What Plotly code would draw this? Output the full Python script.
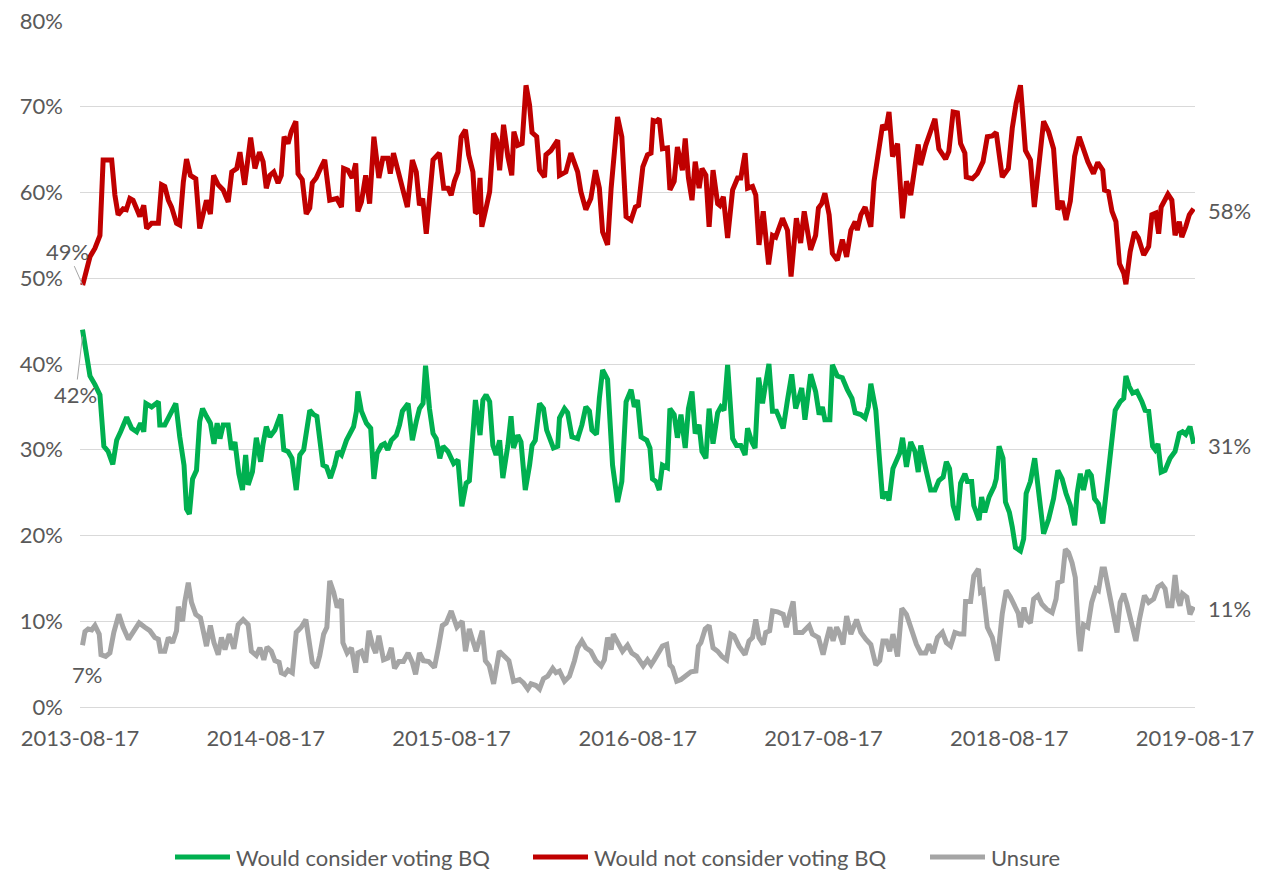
import numpy as np
import pandas as pd
import plotly.graph_objects as go

# ---------------- data (week offset from 2013-08-17, share in %) ----------------
start_date = "2013-08-17"

red_weeks = [0.75, 1.9, 2.8, 4.2, 5.6, 6.5, 8.9, 9.8, 10.7, 12.1, 13.0, 14.0, 14.9, 15.9, 16.8, 17.9, 18.7, 20.1, 22.0, 22.9,
             23.8, 24.8, 25.7, 27.1, 28.0, 29.0, 29.9, 31.0, 32.5, 33.6, 34.7, 35.5, 36.6, 37.5, 38.8, 40.2, 41.6, 42.6, 44.0, 44.9,
             46.2, 47.9, 49.1, 50.4, 51.4, 52.3, 53.3, 54.4, 55.6, 56.5, 57.3, 58.4, 59.3, 60.6, 61.2, 62.4, 63.5, 64.5, 65.2, 66.3,
             67.5, 68.7, 70.1, 72.1, 73.4, 74.0, 75.2, 76.4, 77.4, 78.0, 79.0, 80.2, 81.3, 82.5, 83.9, 85.0, 86.4, 87.1, 88.0, 89.2,
             90.5, 91.9, 93.3, 94.4, 95.3, 96.2, 97.2, 98.1, 99.1, 100.9, 102.1, 103.3, 104.2, 105.1, 106.1, 107.0, 108.2, 109.1, 110.3, 111.0,
             111.7, 112.3, 112.8, 114.0, 115.0, 116.1, 117.0, 117.8, 118.9, 120.1, 121.2, 121.8, 122.9, 124.1, 125.2, 126.2, 126.9, 128.2, 129.0, 130.4,
             130.8, 132.2, 134.1, 134.6, 136.4, 137.8, 139.7, 140.6, 142.0, 143.4, 144.7, 145.8, 146.7, 148.1, 149.1, 150.9, 152.1, 153.3, 154.7, 155.9,
             156.8, 158.0, 159.3, 160.3, 160.9, 161.7, 162.6, 163.5, 164.9, 165.6, 166.8, 167.7, 168.7, 169.1, 169.9, 170.8, 171.8, 172.7, 173.8, 174.6,
             175.7, 176.6, 177.7, 179.0, 179.6, 180.6, 181.8, 183.2, 184.6, 185.5, 186.7, 187.4, 188.8, 189.7, 190.6, 191.8, 193.3, 194.4, 195.3, 197.2,
             198.6, 199.6, 201.1, 202.3, 203.3, 205.1, 206.5, 207.3, 208.2, 209.1, 210.3, 211.2, 212.6, 214.0, 215.2, 216.4, 217.6, 218.2, 219.2, 220.4,
             222.0, 222.9, 225.3, 226.2, 227.1, 228.1, 229.5, 230.9, 232.0, 233.2, 235.3, 236.0, 237.4, 240.0, 241.1, 243.0, 243.9, 245.1, 246.3, 247.2,
             248.4, 248.8, 250.5, 251.9, 253.5, 254.7, 256.1, 257.2, 258.9, 260.6, 261.7, 262.8, 264.0, 265.4, 266.8, 267.9, 270.5, 271.9, 273.3, 274.5,
             275.7, 276.8, 278.0, 279.2, 280.5, 281.7, 282.9, 284.5, 285.7, 287.1, 287.6, 288.7, 289.7, 290.8, 291.8, 293.0, 293.6, 294.8, 296.0, 297.1,
             298.6, 300.0, 300.9, 302.0, 302.8, 303.5, 304.4, 305.4, 306.5, 307.4, 308.6, 309.3, 310.4, 311.4, 312.6]
red_vals = [49.2, 51.1, 52.5, 53.5, 55.0, 63.8, 63.8, 59.7, 57.4, 58.1, 58.0, 59.3, 59.1, 58.1, 57.2, 58.5, 55.8, 56.4, 56.4, 60.9,
            60.7, 59.1, 58.3, 56.4, 56.2, 61.2, 63.9, 62.0, 61.6, 55.8, 58.1, 59.1, 57.5, 62.0, 60.9, 60.3, 58.9, 62.4, 62.8, 64.7,
            60.9, 66.4, 62.8, 64.7, 63.6, 60.5, 62.0, 62.4, 61.1, 62.0, 66.5, 65.7, 67.1, 68.3, 62.2, 61.5, 57.5, 58.2, 61.1, 61.7,
            62.8, 63.8, 59.1, 59.3, 58.3, 62.8, 62.6, 61.7, 63.4, 57.8, 58.9, 62.0, 58.7, 66.5, 61.7, 64.0, 64.0, 62.2, 64.6, 62.8,
            60.5, 58.3, 63.8, 62.4, 58.5, 59.3, 55.2, 60.1, 63.8, 64.6, 60.5, 60.5, 59.7, 61.3, 62.4, 66.5, 67.3, 64.4, 62.4, 57.6,
            57.8, 61.7, 56.0, 58.2, 60.1, 66.9, 66.1, 62.6, 67.9, 64.2, 62.0, 67.1, 65.5, 65.7, 72.5, 70.2, 67.0, 66.5, 62.6, 61.8,
            64.4, 64.9, 66.1, 62.0, 62.4, 64.6, 62.4, 60.1, 58.0, 59.3, 62.6, 60.5, 55.4, 53.9, 60.5, 68.8, 66.5, 57.2, 56.8, 58.3,
            58.5, 63.0, 64.4, 64.6, 68.4, 68.3, 68.6, 65.1, 65.2, 60.3, 61.3, 65.3, 62.8, 62.6, 66.3, 61.7, 59.1, 63.6, 60.5, 62.8,
            62.0, 56.0, 62.6, 58.7, 58.5, 59.5, 54.7, 60.3, 61.7, 61.7, 64.6, 60.5, 60.7, 59.7, 53.9, 57.8, 51.6, 55.0, 54.8, 57.0,
            55.6, 50.2, 57.0, 54.1, 57.8, 53.3, 55.0, 58.2, 58.7, 59.9, 57.4, 52.9, 52.1, 54.5, 52.5, 55.6, 56.6, 55.6, 57.4, 58.3,
            56.0, 61.3, 67.9, 67.3, 69.4, 64.2, 65.7, 57.0, 61.3, 59.7, 65.6, 63.2, 65.5, 68.6, 65.1, 63.9, 64.8, 69.4, 69.3, 65.7,
            64.6, 61.8, 61.6, 62.2, 63.6, 66.5, 66.6, 67.0, 61.8, 62.8, 67.5, 70.4, 72.5, 64.9, 63.8, 58.3, 68.3, 67.1, 65.1, 58.0,
            59.0, 56.8, 59.0, 64.2, 66.5, 65.1, 63.6, 62.2, 63.5, 62.6, 60.3, 60.1, 57.8, 56.6, 51.7, 50.6, 49.3, 53.1, 55.4, 54.7,
            52.7, 53.7, 57.4, 57.6, 55.2, 58.3, 58.9, 59.8, 59.1, 55.0, 56.6, 54.8, 56.0, 57.4, 58.1]

green_weeks = [0.7, 1.9, 2.8, 4.2, 5.6, 6.7, 7.9, 9.2, 10.3, 11.4, 13.1, 14.5, 15.9, 17.0, 17.9, 18.5, 20.1, 22.0, 22.4, 23.8,
               25.7, 26.9, 28.0, 29.2, 29.9, 30.7, 31.6, 32.7, 33.6, 34.4, 35.5, 36.6, 37.6, 38.5, 39.3, 40.2, 41.6, 42.5, 43.5, 44.6,
               45.6, 46.5, 47.2, 48.4, 49.5, 50.7, 51.4, 52.3, 53.3, 54.7, 56.3, 57.2, 58.4, 59.5, 60.7, 61.7, 62.8, 64.5, 65.6, 66.5,
               68.2, 69.2, 70.3, 71.5, 72.4, 73.4, 74.8, 75.7, 76.8, 77.6, 78.0, 79.0, 80.4, 81.6, 82.5, 83.4, 84.6, 85.5, 86.4, 87.4,
               88.8, 89.7, 90.5, 92.1, 93.3, 94.4, 95.3, 96.3, 97.0, 98.1, 99.1, 100.0, 101.0, 101.9, 103.3, 104.9, 106.1, 107.2, 108.4, 109.3,
               110.3, 111.0, 112.3, 113.1, 114.0, 115.0, 115.9, 116.8, 117.8, 118.7, 120.1, 121.0, 121.7, 122.9, 123.8, 125.0, 126.2, 126.9, 127.8, 129.0,
               130.1, 131.0, 132.9, 134.1, 134.6, 136.0, 136.9, 138.1, 139.7, 140.9, 142.0, 143.0, 143.7, 145.0, 145.8, 146.7, 148.1, 149.5, 150.9, 152.1,
               153.3, 154.7, 155.6, 156.5, 157.5, 159.1, 160.0, 160.7, 161.7, 162.6, 163.5, 164.9, 165.6, 166.8, 167.7, 168.7, 169.9, 170.8, 171.8, 172.7,
               173.8, 174.6, 175.7, 176.6, 177.7, 179.0, 179.9, 180.8, 181.8, 183.2, 184.3, 185.5, 186.7, 187.4, 188.6, 189.5, 190.5, 191.6, 192.5, 193.4,
               194.4, 195.5, 196.3, 197.4, 198.6, 199.8, 200.9, 202.6, 203.5, 205.1, 206.5, 207.5, 208.4, 209.1, 210.5, 211.2, 212.6, 214.0, 215.4, 216.7,
               217.6, 219.2, 220.4, 221.3, 222.0, 223.4, 224.3, 225.3, 226.2, 227.1, 228.2, 229.5, 230.1, 230.9, 232.0, 233.2, 234.4, 235.3, 236.0, 237.4,
               238.8, 240.0, 241.1, 242.3, 243.2, 244.1, 245.1, 246.3, 247.2, 248.4, 249.1, 250.3, 250.9, 252.4, 253.1, 254.0, 255.2, 256.6, 257.2, 258.0,
               259.1, 259.8, 260.9, 261.7, 262.6, 264.0, 264.9, 265.6, 266.8, 268.0, 269.3, 270.5, 271.9, 273.3, 274.5, 275.7, 276.8, 278.0, 279.2, 279.9,
               280.8, 281.7, 282.9, 283.9, 284.8, 285.9, 287.1, 288.0, 289.2, 290.6, 292.0, 293.0, 293.6, 294.5, 295.5, 296.7, 298.1, 299.0, 300.0, 301.1,
               301.8, 302.6, 303.5, 304.6, 306.0, 307.4, 308.6, 309.5, 310.4, 311.6, 312.6]
green_vals = [44.0, 40.3, 38.6, 37.6, 36.4, 30.4, 29.8, 28.3, 31.1, 32.1, 33.8, 32.5, 32.1, 33.1, 32.1, 35.4, 35.0, 35.6, 32.9, 32.9,
              34.6, 35.4, 31.5, 28.2, 23.1, 22.5, 26.6, 27.6, 33.3, 34.8, 33.9, 33.1, 30.7, 33.1, 31.3, 32.9, 32.9, 30.0, 30.9, 27.2,
              25.3, 29.4, 25.9, 27.4, 31.4, 28.6, 30.7, 32.7, 31.5, 32.3, 34.1, 30.0, 29.8, 29.0, 25.3, 29.4, 30.0, 34.6, 34.1, 33.9,
              28.2, 28.0, 26.7, 28.2, 29.8, 29.4, 31.1, 31.7, 32.7, 34.5, 36.8, 34.5, 33.1, 32.5, 26.6, 29.6, 30.5, 30.7, 30.0, 31.1,
              31.7, 32.9, 34.5, 35.4, 31.1, 33.3, 34.8, 35.4, 39.8, 34.8, 31.9, 31.3, 29.0, 30.4, 29.8, 28.4, 28.8, 23.4, 26.1, 26.4,
              31.3, 35.8, 31.7, 35.8, 36.4, 35.6, 30.5, 29.4, 31.1, 26.7, 30.5, 33.9, 30.2, 31.7, 30.9, 25.3, 28.2, 30.5, 31.1, 35.4,
              34.8, 32.3, 30.2, 30.4, 33.7, 34.8, 34.3, 31.5, 31.3, 32.9, 35.0, 34.5, 32.3, 31.8, 36.0, 39.3, 38.2, 28.2, 23.9, 26.3,
              35.6, 37.0, 35.0, 35.8, 31.5, 31.1, 30.2, 26.6, 26.3, 25.3, 28.2, 27.9, 34.8, 34.1, 31.4, 34.1, 30.2, 34.8, 36.8, 31.9,
              32.9, 29.8, 29.0, 34.8, 30.7, 34.3, 35.0, 34.6, 39.9, 31.3, 30.5, 30.5, 29.4, 32.5, 30.9, 30.2, 38.4, 35.4, 37.8, 40.0,
              34.5, 34.5, 33.7, 32.5, 35.8, 38.8, 34.8, 37.2, 33.5, 38.8, 36.8, 34.1, 35.0, 33.5, 33.5, 39.9, 38.6, 38.4, 37.0, 36.0,
              34.3, 34.1, 33.7, 35.0, 37.7, 34.6, 29.6, 24.3, 25.1, 24.1, 27.8, 29.2, 29.6, 31.4, 28.0, 30.9, 29.8, 27.4, 30.5, 27.8,
              25.3, 25.3, 26.4, 26.8, 28.6, 27.8, 23.5, 21.8, 26.1, 27.2, 26.3, 26.3, 23.5, 21.8, 24.5, 22.7, 24.5, 25.7, 26.6, 30.4,
              29.0, 23.9, 22.7, 21.0, 18.6, 18.2, 19.6, 24.9, 26.3, 29.0, 24.3, 20.2, 21.9, 24.3, 27.6, 26.6, 24.9, 23.5, 21.2, 24.9,
              27.2, 25.3, 27.6, 27.0, 24.3, 23.7, 21.4, 25.1, 29.0, 34.6, 35.6, 36.0, 38.6, 37.4, 36.6, 36.8, 35.6, 34.6, 34.5, 30.4,
              30.0, 30.7, 27.4, 27.6, 29.0, 29.8, 31.9, 32.1, 31.8, 32.7, 30.7]

gray_weeks = [0.7, 1.4, 2.3, 3.3, 4.2, 5.4, 5.9, 7.2, 8.4, 9.5, 10.9, 12.1, 13.6, 15.1, 16.6, 18.2, 19.6, 21.0, 22.0, 22.6,
              23.8, 24.8, 26.0, 27.1, 27.6, 28.8, 29.4, 30.4, 31.3, 32.5, 33.8, 34.8, 35.5, 36.6, 37.6, 38.8, 39.7, 40.7, 41.9, 43.2,
              44.4, 45.8, 47.2, 48.1, 49.5, 50.5, 51.6, 52.5, 53.7, 54.7, 55.9, 56.5, 57.5, 58.4, 59.6, 60.7, 62.1, 63.4, 64.3, 65.2,
              66.4, 67.3, 68.4, 69.3, 70.1, 71.2, 72.2, 73.4, 73.8, 75.0, 76.2, 77.4, 78.0, 79.0, 80.2, 81.1, 82.2, 83.0, 83.9, 85.2,
              86.4, 87.4, 88.3, 89.5, 90.8, 92.1, 93.3, 94.2, 95.3, 96.4, 97.9, 99.5, 100.6, 101.7, 102.8, 104.2, 105.8, 107.3, 108.2, 109.3,
              110.3, 111.2, 112.9, 113.8, 114.9, 116.1, 117.7, 119.1, 120.4, 121.7, 123.4, 124.5, 125.7, 126.6, 128.0, 129.0, 130.1, 131.3, 132.7, 133.6,
              134.6, 136.0, 137.4, 138.8, 139.7, 140.9, 142.0, 143.4, 144.8, 146.3, 147.2, 148.1, 149.1, 149.7, 150.9, 152.3, 153.7, 154.9, 156.3, 157.5,
              158.1, 159.3, 160.3, 161.2, 162.1, 163.5, 164.7, 165.6, 166.3, 167.5, 168.7, 170.1, 171.5, 172.9, 173.6, 174.3, 175.5, 176.6, 177.7, 179.0,
              180.2, 181.5, 182.7, 183.6, 185.0, 186.7, 187.8, 188.8, 189.7, 190.6, 191.8, 192.5, 193.6, 194.4, 195.8, 197.4, 198.3, 199.2, 200.2, 200.9,
              202.8, 204.7, 205.6, 207.3, 208.6, 209.5, 210.5, 211.4, 212.4, 213.1, 214.2, 215.2, 216.4, 218.0, 219.2, 220.6, 222.0, 223.4, 224.5, 225.4,
              226.4, 227.3, 228.2, 229.5, 230.7, 232.0, 233.7, 234.8, 236.0, 237.4, 238.3, 239.5, 240.7, 242.1, 243.2, 244.4, 245.6, 246.9, 248.1, 248.6,
              250.0, 250.9, 252.2, 252.8, 253.5, 254.7, 256.1, 257.5, 258.9, 260.0, 261.2, 262.6, 263.4, 264.0, 265.0, 265.8, 266.8, 267.7, 268.9, 270.0,
              271.4, 272.9, 274.0, 274.5, 275.7, 276.6, 277.5, 278.5, 279.4, 280.3, 280.8, 281.7, 282.9, 284.0, 285.2, 285.9, 286.9, 287.6, 288.6, 289.7,
              291.1, 292.0, 293.0, 293.9, 295.1, 296.4, 297.4, 298.8, 300.0, 301.4, 302.6, 303.7, 304.6, 305.4, 306.5, 307.4, 308.2, 308.8, 309.5, 310.7,
              311.6, 312.6]
gray_vals = [7.2, 8.8, 9.1, 9.0, 9.5, 8.5, 6.1, 5.9, 6.3, 8.7, 10.8, 9.3, 7.9, 8.9, 9.8, 9.3, 8.9, 8.1, 7.9, 6.5,
             6.5, 8.1, 7.5, 8.9, 11.7, 10.0, 12.2, 14.5, 12.2, 10.8, 10.4, 8.5, 7.1, 9.5, 7.5, 6.1, 8.1, 6.7, 8.5, 6.8,
             9.6, 10.2, 9.6, 6.5, 6.0, 6.9, 5.5, 7.0, 6.5, 5.4, 5.2, 4.0, 3.8, 4.3, 4.0, 8.7, 9.3, 10.2, 7.7, 5.2,
             4.6, 6.0, 8.5, 9.3, 14.7, 13.4, 11.6, 12.6, 7.5, 6.3, 6.9, 4.0, 6.3, 6.5, 5.2, 8.9, 7.1, 6.3, 8.3, 5.5,
             5.7, 6.9, 4.5, 5.3, 5.3, 6.3, 5.2, 3.8, 6.3, 5.4, 5.3, 4.6, 6.9, 9.5, 9.8, 11.2, 9.3, 10.0, 6.5, 9.1,
             7.7, 6.5, 8.9, 5.4, 4.8, 2.7, 6.5, 5.9, 5.4, 3.0, 3.2, 2.8, 2.1, 2.7, 2.5, 2.1, 3.3, 3.6, 4.5, 4.0,
             4.2, 3.0, 3.6, 5.4, 6.9, 7.7, 6.9, 6.5, 5.4, 4.8, 5.5, 8.1, 6.7, 8.5, 7.7, 6.5, 7.2, 6.3, 5.9, 5.2,
             4.8, 5.5, 4.9, 5.5, 6.1, 7.1, 7.3, 4.9, 4.6, 3.0, 3.2, 3.6, 4.1, 4.2, 7.1, 7.5, 9.1, 9.5, 6.9, 6.5,
             5.9, 5.5, 8.5, 8.3, 7.1, 6.1, 7.7, 8.1, 10.2, 8.1, 7.3, 8.7, 8.9, 11.2, 11.1, 10.8, 9.3, 10.8, 12.3, 8.7,
             8.7, 9.5, 8.5, 8.1, 6.1, 7.7, 9.3, 7.7, 9.3, 8.7, 7.3, 10.6, 8.5, 10.2, 8.7, 7.9, 7.3, 4.9, 5.4, 7.7,
             7.7, 6.5, 8.5, 5.9, 11.5, 10.8, 8.5, 7.3, 6.3, 6.3, 7.3, 6.3, 8.1, 8.7, 7.5, 7.1, 8.7, 8.5, 8.5, 12.3,
             12.3, 15.3, 16.1, 13.4, 13.6, 9.3, 8.1, 5.4, 10.9, 13.6, 12.8, 11.6, 10.9, 9.3, 11.6, 10.2, 9.8, 12.6, 13.0, 12.0,
             11.4, 11.0, 12.6, 14.5, 14.7, 18.4, 18.0, 16.8, 15.1, 8.7, 6.5, 9.6, 9.3, 12.2, 13.8, 13.6, 16.1, 16.1, 13.8, 11.4,
             8.7, 12.2, 13.2, 12.0, 9.8, 7.7, 10.2, 13.0, 12.2, 12.6, 14.0, 14.3, 13.8, 11.8, 11.8, 15.4, 12.6, 11.8, 13.2, 12.8,
             10.8, 11.7]

series_names = ["Would consider voting BQ", "Would not consider voting BQ", "Unsure"]
series_colors = ["#00B050", "#C00000", "#A5A5A5"]
tick_dates = ["2013-08-17", "2014-08-17", "2015-08-17", "2016-08-17", "2017-08-17", "2018-08-17", "2019-08-17"]
y_ticks = [0.0, 0.1, 0.2, 0.3, 0.4, 0.5, 0.6, 0.7, 0.8]
y_ticktext = ["0%", "10%", "20%", "30%", "40%", "50%", "60%", "70%", "80%"]
start_labels = ["42%", "49%", "7%"]
end_labels = ["31%", "58%", "11%"]

# ---------------- layout constants (figure pixels; page adds an 8px body margin) ----------------
W, H = 1256, 862
PL, PR, PT, PB = 72, 1187, 13, 699          # plot area edges
LEG_Y = 849                                  # legend row centre
LEG_X = [167, 525, 922]                      # legend sample left edges
LEG_SAMPLE = 55
FONT = "Lato, 'Open Sans', sans-serif"
FS = 22
TXT = "#595959"


def px_x(px):
    return (px - PL) / (PR - PL)


def px_y(py):
    return (PB - py) / (PB - PT)


t0 = pd.Timestamp(start_date)


def to_dates(weeks):
    return t0 + pd.to_timedelta(np.round(np.array(weeks) * 7 * 24), unit="h")


series = [(green_weeks, green_vals), (red_weeks, red_vals), (gray_weeks, gray_vals)]

fig = go.Figure()
for (wk, vals), name, col in zip(series, series_names, series_colors):
    fig.add_trace(go.Scatter(
        x=to_dates(wk), y=np.array(vals) / 100.0, mode="lines", name=name,
        line=dict(color=col, width=5), hoverinfo="skip", showlegend=False))

lab_font = dict(family=FONT, size=FS, color=TXT)

# start labels
first = [(to_dates(w)[0], v[0] / 100.0) for w, v in series]
fig.add_annotation(x=first[0][0], y=first[0][1] - 0.008, text=start_labels[0], showarrow=True,
                   arrowhead=0, arrowwidth=1, arrowcolor="#A6A6A6", ax=-7, ay=58, font=lab_font)
fig.add_annotation(x=first[1][0], y=first[1][1], text=start_labels[1], showarrow=True,
                   arrowhead=0, arrowwidth=1, arrowcolor="#A6A6A6", ax=-15, ay=-34, font=lab_font)
fig.add_annotation(x=first[2][0], y=first[2][1], text=start_labels[2], showarrow=False,
                   xshift=4, yshift=-29, font=lab_font)

# end labels
for (w, v), lab in zip(series, end_labels):
    fig.add_annotation(x=to_dates(w)[-1], y=v[-1] / 100.0, text=lab, showarrow=False,
                       xanchor="left", xshift=12, yshift=-2, font=lab_font)

# legend (drawn to match the longer line samples of the original)
for lx, name, col in zip(LEG_X, series_names, series_colors):
    fig.add_shape(type="line", xref="paper", yref="paper",
                  x0=px_x(lx), x1=px_x(lx + LEG_SAMPLE), y0=px_y(LEG_Y), y1=px_y(LEG_Y),
                  line=dict(color=col, width=5))
    fig.add_annotation(xref="paper", yref="paper", x=px_x(lx + LEG_SAMPLE + 4), y=px_y(LEG_Y),
                       xanchor="left", yanchor="middle", text=name, showarrow=False, font=lab_font)

fig.update_layout(
    width=W, height=H,
    margin=dict(l=PL, r=W - PR, t=PT, b=H - PB, autoexpand=False),
    paper_bgcolor="white", plot_bgcolor="white",
    font=dict(family=FONT, size=FS, color=TXT),
    showlegend=False,
    xaxis=dict(type="date", range=[tick_dates[0], tick_dates[-1]],
               tickvals=tick_dates, ticktext=tick_dates, automargin=False,
               ticklabeloverflow="allow",
               showgrid=False, zeroline=False, showline=False, ticks="",
               tickfont=dict(family=FONT, size=FS, color=TXT), ticklabelstandoff=16),
    yaxis=dict(range=[0, 0.8], tickmode="array", tickvals=y_ticks, ticktext=y_ticktext,
               automargin=False, ticklabeloverflow="allow",
               showgrid=True, gridcolor="#D9D9D9", gridwidth=1,
               zeroline=True, zerolinecolor="#D9D9D9", zerolinewidth=1,
               showline=False, ticks="",
               tickfont=dict(family=FONT, size=FS, color=TXT), ticklabelstandoff=16),
)

fig.write_html("out.html")
